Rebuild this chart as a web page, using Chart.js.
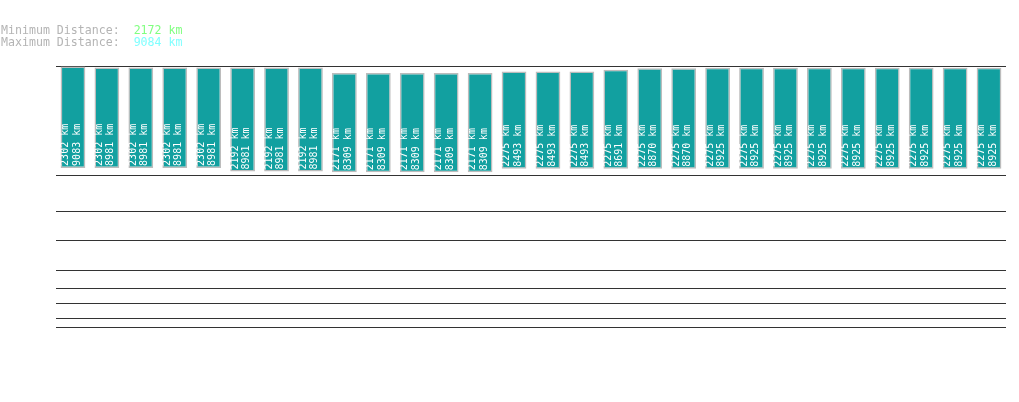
<!DOCTYPE html>
<html>
<head>
<meta charset="utf-8">
<script src="https://cdn.jsdelivr.net/npm/chart.js@4"></script>
<style>
  body{margin:0;background:#fff;}
  #wrap{position:relative;width:1019px;height:402px;}
  #hdr{position:absolute;left:1px;top:24px;margin:0;font:11.6px "DejaVu Sans Mono",monospace;line-height:12px;color:#b4b4b4;}
  .mn{color:#80ff80}
  .mx{color:#80ffff}
  canvas{position:absolute;left:0;top:0;}
</style>
</head>
<body>
<div id="wrap">
  <canvas id="chart" width="1019" height="402"></canvas>
  <pre id="hdr">Minimum Distance:  <span class="mn">2172 km</span>
Maximum Distance:  <span class="mx">9084 km</span></pre>
</div>
<script>
/* ── data ── */
const categories = ['1','2','3','4','5','6','7','8','9','10','11','12','13','14',
                    '15','16','17','18','19','20','21','22','23','24','25','26','27','28'];
const minKm = [2302,2302,2302,2302,2302,2192,2192,2192,2171,2171,2171,2171,2171,2275,
               2275,2275,2275,2275,2275,2275,2275,2275,2275,2275,2275,2275,2275,2275];
const maxKm = [9083,8981,8981,8981,8981,8981,8981,8981,8309,8309,8309,8309,8309,8493,
               8493,8493,8691,8870,8870,8925,8925,8925,8925,8925,8925,8925,8925,8925];
const axisMax = 9150, axisMin = 267;
const gridValues = [9150,2091,1284,867,577,452,369,301,267];

/* ── vertical km labels inside bars ── */
const barLabels = {
  id:'barLabels',
  afterDatasetsDraw(chart){
    const ctx = chart.ctx;
    const meta = chart.getDatasetMeta(0);
    ctx.save();
    ctx.fillStyle = '#ffffff';
    ctx.font = '10px "DejaVu Sans Mono", monospace';
    ctx.textAlign = 'left';
    ctx.textBaseline = 'middle';
    meta.data.forEach((bar,i)=>{
      const bottom = chart.scales.y.getPixelForValue(minKm[i]);
      [[minKm[i],-7.5],[maxKm[i],4]].forEach(([v,dx])=>{
        ctx.save();
        ctx.translate(bar.x+dx, bottom-2);
        ctx.rotate(-Math.PI/2);
        ctx.fillText(v+' km',0,0);
        ctx.restore();
      });
    });
    ctx.restore();
  }
};

new Chart(document.getElementById('chart'),{
  type:'bar',
  data:{
    labels:categories,
    datasets:[{
      data:minKm.map((v,i)=>[v,maxKm[i]]),
      backgroundColor:'#12a0a0',
      borderColor:'#bcbcbc',
      borderWidth:1.5,
      borderSkipped:false,
      categoryPercentage:1,
      barPercentage:0.73
    }]
  },
  options:{
    responsive:false,
    animation:false,
    devicePixelRatio:1,
    layout:{padding:{left:56,right:13,top:66,bottom:75}},
    plugins:{legend:{display:false},tooltip:{enabled:false}},
    scales:{
      x:{display:false},
      y:{
        type:'logarithmic',
        min:axisMin, max:axisMax,
        afterBuildTicks:s=>{ s.ticks = gridValues.map(v=>({value:v})); },
        ticks:{display:false},
        border:{display:false},
        grid:{color:'#333333',lineWidth:1,drawTicks:false}
      }
    }
  },
  plugins:[barLabels]
});
</script>
</body>
</html>
